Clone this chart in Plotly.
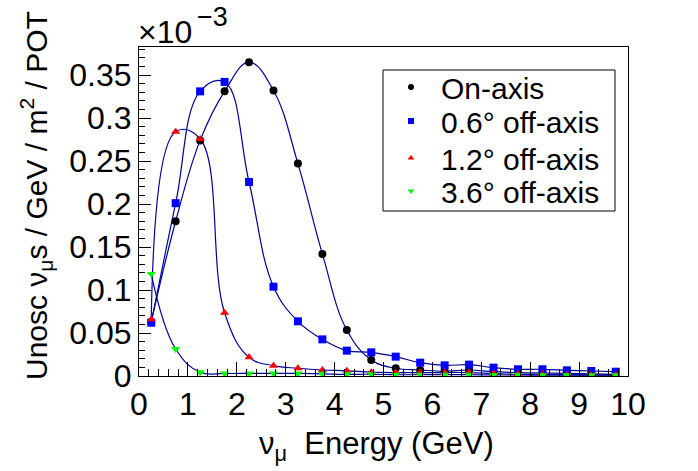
import plotly.graph_objects as go

energy = [0.25, 0.75, 1.25, 1.75, 2.25, 2.75, 3.25, 3.75, 4.25, 4.75,
          5.25, 5.75, 6.25, 6.75, 7.25, 7.75, 8.25, 8.75, 9.25, 9.75]

on_axis = [0.063, 0.180, 0.274, 0.331, 0.365, 0.332, 0.247, 0.142, 0.0535, 0.0186,
           0.009, 0.007, 0.0055, 0.007, 0.005, 0.004, 0.0035, 0.003, 0.0025, 0.002]
off_06 = [0.062, 0.201, 0.331, 0.342, 0.2256, 0.1039, 0.0636, 0.0426, 0.0295, 0.0275,
          0.0225, 0.0155, 0.0124, 0.0132, 0.0097, 0.0078, 0.0078, 0.0066, 0.0058, 0.005]
off_12 = [0.066, 0.284, 0.2756, 0.0736, 0.0217, 0.012, 0.009, 0.007, 0.006, 0.0045,
          0.004, 0.004, 0.004, 0.004, 0.003, 0.002, 0.002, 0.0015, 0.0012, 0.001]
off_36 = [0.1186, 0.0314, 0.0043, 0.003, 0.003, 0.003, 0.003, 0.0025, 0.002, 0.002,
          0.0015, 0.0015, 0.0015, 0.0015, 0.0012, 0.0012, 0.001, 0.001, 0.001, 0.001]

names = ["On-axis", "0.6° off-axis", "1.2° off-axis", "3.6° off-axis"]
series = [on_axis, off_06, off_12, off_36]
colors = ["#000000", "#0000ff", "#ff0000", "#00ff00"]
symbols = ["circle", "square", "triangle-up", "triangle-down"]

FONT = "Liberation Sans, Arial, Helvetica, sans-serif"
LINE = "#000099"

# page body margin is removed below, so figure pixels == page pixels.
# plot area: left 139, right 628, top 47, bottom 376
W, H = 698, 471
PL, PR, PT, PB = 139, 628, 47, 376
PW, PH = PR - PL, PB - PT


def px(X):
    return (X - PL) / PW


def py(Y):
    return (PB - Y) / PH


fig = go.Figure()
for ys in series:
    fig.add_trace(go.Scatter(x=energy, y=ys, mode="lines",
                             line=dict(color=LINE, width=1.2, shape="spline", smoothing=1.15),
                             showlegend=False, hoverinfo="skip"))
for name, ys, c, s in zip(names, series, colors, symbols):
    fig.add_trace(go.Scatter(x=energy, y=ys, mode="markers", name=name, showlegend=False,
                             marker=dict(color=c, symbol=s, size=8, line=dict(width=0))))

# legend entries: one small legend per row, inside a common bordered box
legend_ids = ["legend", "legend2", "legend3", "legend4"]
row_px = [87, 121, 158, 191]
leg_layout = {}
for i, (name, c, s) in enumerate(zip(names, colors, symbols)):
    fig.add_trace(go.Scatter(x=[None], y=[None], mode="markers", name=name,
                             legend=legend_ids[i], showlegend=True,
                             marker=dict(color=c, symbol=s, size=6, line=dict(width=0))))
    leg_layout[legend_ids[i]] = dict(x=px(381), y=py(row_px[i]), xanchor="left", yanchor="middle",
                                     bgcolor="rgba(0,0,0,0)", borderwidth=0,
                                     font=dict(size=30, family=FONT, color="black"),
                                     itemwidth=50)

fig.add_shape(type="rect", xref="paper", yref="paper",
              x0=px(383), x1=px(615), y0=py(211), y1=py(70),
              line=dict(color="black", width=1), fillcolor="white", layer="above")

fig.update_layout(
    width=W, height=H,
    margin=dict(l=PL, r=W - PR, t=PT, b=H - PB, autoexpand=False),
    paper_bgcolor="white", plot_bgcolor="white",
    font=dict(family=FONT, size=31, color="black"),
    showlegend=True,
    **leg_layout,
)
fig.update_xaxes(range=[0, 10], dtick=1, tick0=0, ticks="inside", ticklen=14,
                 tickwidth=1, tickcolor="black", showline=True, linecolor="black",
                 linewidth=1, mirror=True, showgrid=False, zeroline=False,
                 automargin=False, tickfont=dict(size=32),
                 minor=dict(ticks="inside", ticklen=7, dtick=0.2, tickcolor="black", showgrid=False))
ytick_vals = [0, 0.05, 0.1, 0.15, 0.2, 0.25, 0.3, 0.35]
ytick_text = ["0", "0.05", "0.1", "0.15", "0.2", "0.25", "0.3", "0.35"]
fig.update_yaxes(range=[0, 0.3826], tickvals=ytick_vals, ticktext=ytick_text,
                 ticks="inside", ticklen=12, tickwidth=1, tickcolor="black",
                 showline=True, linecolor="black", linewidth=1, mirror=True,
                 showgrid=False, zeroline=False, automargin=False, tickfont=dict(size=32),
                 minor=dict(ticks="inside", ticklen=6, dtick=0.01, tick0=0, tickcolor="black", showgrid=False))

# axis titles
fig.add_annotation(text="ν<sub>μ</sub>  Energy (GeV)", xref="paper", yref="paper",
                   x=px(376), y=py(446), xanchor="center", yanchor="middle",
                   showarrow=False, font=dict(size=31))
fig.add_annotation(text="Unosc ν<sub>μ</sub>s / GeV / m<sup>2</sup> / POT", xref="paper", yref="paper",
                   x=px(36), y=py(196), xanchor="center", yanchor="middle", textangle=-90,
                   showarrow=False, font=dict(size=30))
# exponent label
fig.add_annotation(text="×10", xref="paper", yref="paper", x=px(136), y=py(32),
                   xanchor="left", yanchor="middle", showarrow=False, font=dict(size=32))
fig.add_annotation(text="−3", xref="paper", yref="paper", x=px(195), y=py(0),
                   xanchor="left", yanchor="top", showarrow=False, font=dict(size=27))

fig.write_html("out.html", config={"displayModeBar": False},
               post_script="document.body.style.margin='0px';")
